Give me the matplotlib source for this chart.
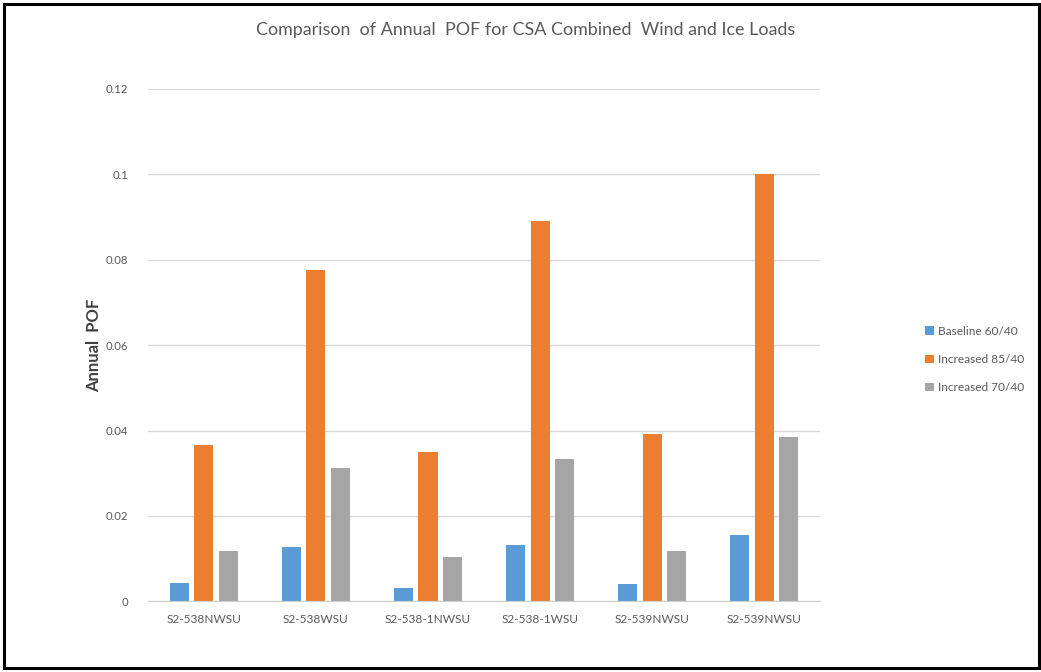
import matplotlib
matplotlib.use("Agg")
import matplotlib.pyplot as plt
import numpy as np
from matplotlib.patches import Rectangle

plt.rcParams['font.family'] = ['Lato', 'DejaVu Sans']

categories = ["S2-538NWSU", "S2-538WSU", "S2-538-1NWSU", "S2-538-1WSU", "S2-539NWSU", "S2-539NWSU"]
series_names = ["Baseline 60/40", "Increased 85/40", "Increased 70/40"]
baseline = [0.0043, 0.0128, 0.0032, 0.0131, 0.0040, 0.0155]
increased_85 = [0.0367, 0.0775, 0.0349, 0.0890, 0.0391, 0.1000]
increased_70 = [0.0118, 0.0312, 0.0104, 0.0333, 0.0118, 0.0384]
yticks = [0, 0.02, 0.04, 0.06, 0.08, 0.1, 0.12]
ytick_labels = ["0", "0.02", "0.04", "0.06", "0.08", "0.1", "0.12"]
colors = ["#5B9BD5", "#ED7D31", "#A5A5A5"]

fig = plt.figure(figsize=(10.41, 6.72), dpi=100)
ax = fig.add_axes([0.142, 0.105, 0.646, 0.763])

x = np.arange(len(categories))
width = 0.17
step = 0.22
for i, (vals, name, col) in enumerate(zip([baseline, increased_85, increased_70], series_names, colors)):
    ax.bar(x + (i - 1) * step, vals, width=width, color=col, label=name, zorder=3)

ax.set_xlim(-0.5, len(categories) - 0.5)
ax.set_ylim(0, 0.12)
ax.set_yticks(yticks)
ax.set_yticklabels(ytick_labels)
ax.set_xticks(x)
ax.set_xticklabels(categories)
ax.tick_params(axis='both', length=0, labelcolor='#595959')
ax.tick_params(axis='y', pad=14, labelsize=8.2)
ax.tick_params(axis='x', pad=9, labelsize=8.6)
ax.grid(axis='y', color='#d9d9d9', linewidth=1, zorder=0)
for s in ['top', 'right', 'left']:
    ax.spines[s].set_visible(False)
ax.spines['bottom'].set_color('#d0d0d0')
ax.spines['bottom'].set_zorder(4)

ax.set_ylabel("Annual  POF", fontsize=12, fontweight='bold', color='#404040')
ax.yaxis.set_label_coords(-0.068, 0.5)
fig.text(0.505, 0.955, "Comparison  of Annual  POF for CSA Combined  Wind and Ice Loads",
         ha='center', va='center', fontsize=12.9, color='#595959')

leg = ax.legend(loc='center left', bbox_to_anchor=(1.14, 0.472), frameon=False,
                fontsize=8.6, handlelength=0.7, handleheight=0.7, handletextpad=0.4,
                labelspacing=1.45, labelcolor='#595959')

fig.patches.append(Rectangle((4 / 1041, 4 / 672), 1035 / 1041, 664 / 672,
                             transform=fig.transFigure, fill=False,
                             edgecolor='black', linewidth=2.2))

fig.savefig("out.png", dpi=100, facecolor='white')
